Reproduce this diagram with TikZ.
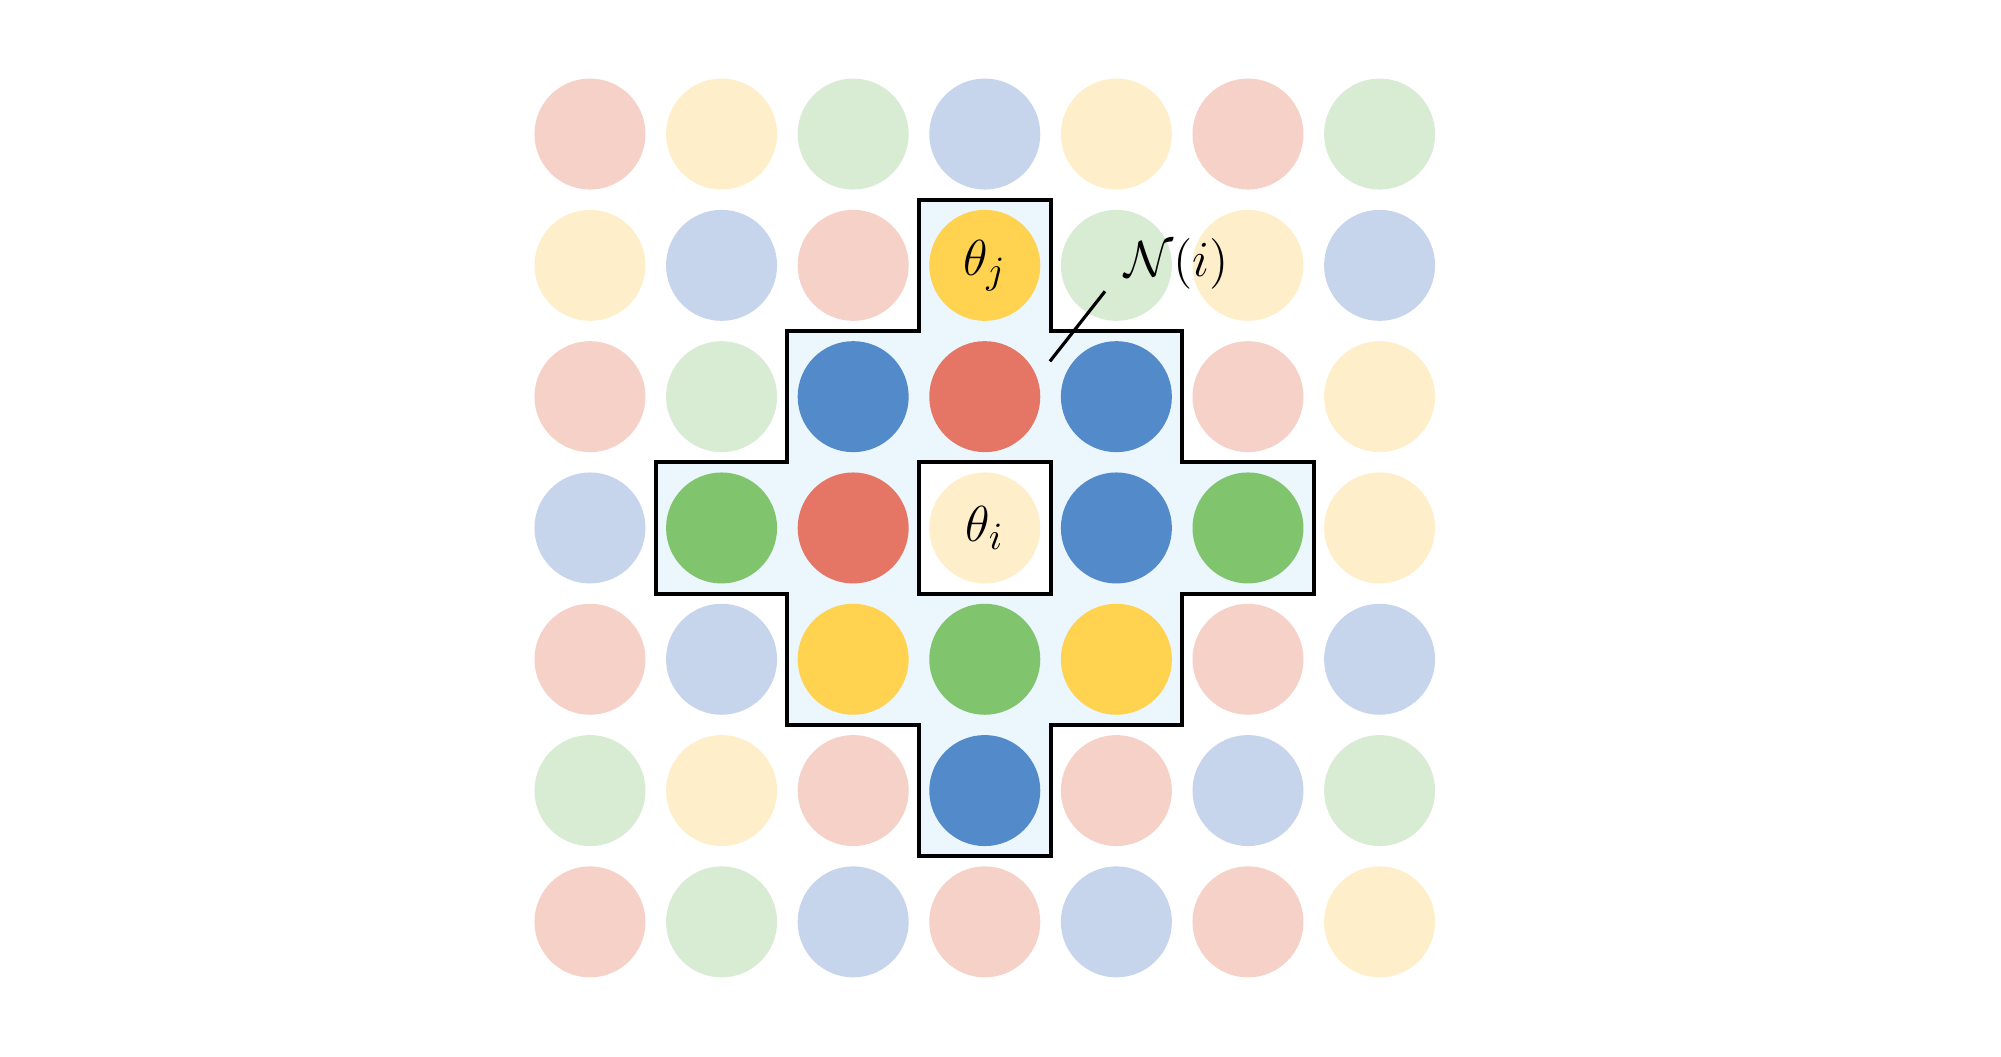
\documentclass[tikz,border=0pt]{standalone}
\usetikzlibrary{positioning}
\usepackage{amsmath}
\definecolor{softred}{HTML}{F6D1C7}
\definecolor{softyellow}{HTML}{FEEFCA}
\definecolor{softgreen}{HTML}{D8EBD3}
\definecolor{softblue}{HTML}{C6D4EC}
\definecolor{hotred}{HTML}{E57565}
\definecolor{hotyellow}{HTML}{FFD24F}
\definecolor{hotgreen}{HTML}{80C46E}
\definecolor{hotblue}{HTML}{538AC9}
\definecolor{crossfill}{HTML}{EBF6FD}

\begin{document}
\begin{tikzpicture}[
        x=1.316cm, y=-1.313cm,
        dot/.style={circle, minimum size=1.11cm, inner sep=0pt},
        outline/.style={draw=black, line width=1.1pt},
        mathlabel/.style={font=\fontsize{15}{18}\selectfont, inner sep=0pt},
        pointer/.style={line width=0.9pt},
    ]
        \useasboundingbox (-4.483,-1.021) rectangle (10.722,7.029);

        % neighbourhood cross
        \draw[outline, fill=crossfill] (2.5,0.5) -- (3.5,0.5) -- (3.5,1.5) -- (4.5,1.5) -- (4.5,2.5)
            -- (5.5,2.5) -- (5.5,3.5) -- (4.5,3.5) -- (4.5,4.5) -- (3.5,4.5) -- (3.5,5.5)
            -- (2.5,5.5) -- (2.5,4.5) -- (1.5,4.5) -- (1.5,3.5) -- (0.5,3.5) -- (0.5,2.5)
            -- (1.5,2.5) -- (1.5,1.5) -- (2.5,1.5) -- cycle;
        \draw[outline, fill=white] (2.5,2.5) rectangle (3.5,3.5);

        % grid of parameters
        \foreach \row [count=\r from 0] in {
            {softred,softyellow,softgreen,softblue,softyellow,softred,softgreen},
            {softyellow,softblue,softred,hotyellow,softgreen,softyellow,softblue},
            {softred,softgreen,hotblue,hotred,hotblue,softred,softyellow},
            {softblue,hotgreen,hotred,softyellow,hotblue,hotgreen,softyellow},
            {softred,softblue,hotyellow,hotgreen,hotyellow,softred,softblue},
            {softgreen,softyellow,softred,hotblue,softred,softblue,softgreen},
            {softred,softgreen,softblue,softred,softblue,softred,softyellow}}
            \foreach \col [count=\c from 0] in \row
                \node[dot, fill=\col] (d-\r-\c) at (\c,\r) {};

        \node[mathlabel] (thetaj) at (d-1-3) {$\theta_j$};
        \node[mathlabel] (thetai) at (d-3-3) {$\theta_i$};

        \node[mathlabel] (nbr) at (4.46,0.992) {$\mathcal{N}(i)$};
        \coordinate (tip) at (3.495,1.731);
        \draw[pointer] ([xshift=-0.19cm, yshift=-0.01cm]nbr.south west) -- (tip);

    \end{tikzpicture}
\end{document}
